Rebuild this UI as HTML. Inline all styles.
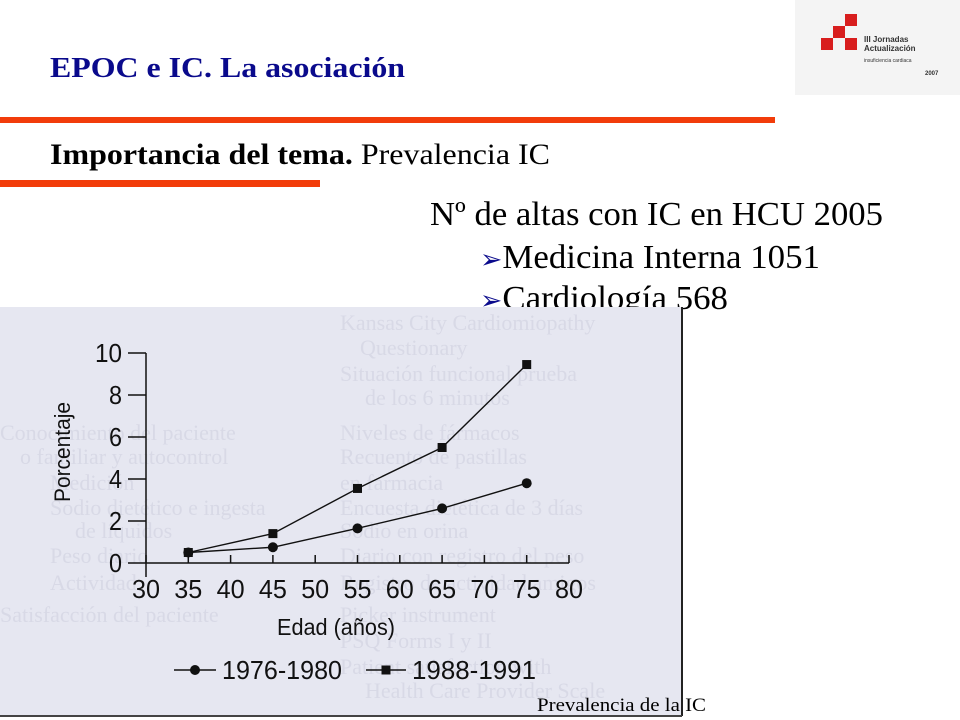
<!DOCTYPE html>
<html><head><meta charset="utf-8"><style>
html,body{margin:0;padding:0;background:#fff;}
svg{display:block;font-family:"Liberation Serif",serif;}
</style></head><body>
<svg id="s" width="960" height="720" viewBox="0 0 960 720" xmlns="http://www.w3.org/2000/svg">
<g>
 <rect x="795" y="0" width="165" height="95" fill="#f4f4f4"/>
 <rect x="845" y="14" width="12" height="12" fill="#d81e1e"/>
 <rect x="833" y="26" width="12" height="12" fill="#d81e1e"/>
 <rect x="821" y="38" width="12" height="12" fill="#d81e1e"/>
 <rect x="845" y="38" width="12" height="12" fill="#d81e1e"/>
 <text x="864" y="42" font-family="Liberation Sans,sans-serif" font-size="8" font-weight="bold" fill="#333">III Jornadas</text>
 <text x="864" y="51" font-family="Liberation Sans,sans-serif" font-size="8" font-weight="bold" fill="#333">Actualización</text>
 <text x="864" y="62" font-family="Liberation Sans,sans-serif" font-size="5" fill="#333">insuficiencia cardiaca</text>
 <text x="925" y="75" font-family="Liberation Sans,sans-serif" font-size="6" font-weight="bold" fill="#333">2007</text>
</g>
<text x="50" y="77" font-size="29" font-weight="bold" fill="#0a0a8c" textLength="355" lengthAdjust="spacingAndGlyphs">EPOC e IC. La asociación</text>
<rect x="0" y="117" width="775" height="6" fill="#f23c0a"/>
<text x="50" y="164" font-size="30" fill="#000" textLength="500" lengthAdjust="spacingAndGlyphs"><tspan font-weight="bold">Importancia del tema.</tspan> Prevalencia IC</text>
<rect x="0" y="180" width="320" height="7" fill="#f23c0a"/>
<text x="430" y="225" font-size="34" fill="#000" textLength="453" lengthAdjust="spacingAndGlyphs">Nº de altas con IC en HCU 2005</text>
<text x="480" y="268" font-size="34" fill="#000" textLength="340" lengthAdjust="spacingAndGlyphs"><tspan fill="#0a0a8c" font-family="DejaVu Sans,sans-serif" font-size="26">➢</tspan>Medicina Interna 1051</text>
<text x="480" y="309" font-size="34" fill="#000" textLength="248" lengthAdjust="spacingAndGlyphs"><tspan fill="#0a0a8c" font-family="DejaVu Sans,sans-serif" font-size="26">➢</tspan>Cardiología 568</text>

<g>
 <rect x="0" y="307" width="682" height="409" fill="#e6e7f1"/>
 <line x1="682" y1="307" x2="682" y2="716" stroke="#222" stroke-width="2"/>
 <line x1="0" y1="716" x2="682" y2="716" stroke="#444" stroke-width="2"/>
 <g font-family="Liberation Serif,serif" font-size="22" fill="#d8d9e6">
  <text x="340" y="330">Kansas City Cardiomiopathy</text>
  <text x="360" y="355">Questionary</text>
  <text x="340" y="381">Situación funcional prueba</text>
  <text x="365" y="405">de los 6 minutos</text>
  <text x="0" y="440">Conocimiento del paciente</text>
  <text x="340" y="440">Niveles de fármacos</text>
  <text x="20" y="464">o familiar y autocontrol</text>
  <text x="340" y="464">Recuento de pastillas</text>
  <text x="50" y="490">Medición</text>
  <text x="340" y="490">en farmacia</text>
  <text x="50" y="515">Sodio dietético e ingesta</text>
  <text x="340" y="515">Encuesta dietética de 3 días</text>
  <text x="75" y="538">de líquidos</text>
  <text x="340" y="538">Sodio en orina</text>
  <text x="50" y="563">Peso diario</text>
  <text x="340" y="563">Diario con registro del peso</text>
  <text x="50" y="590">Actividad</text>
  <text x="340" y="590">Registro de actividad amigos</text>
  <text x="0" y="622">Satisfacción del paciente</text>
  <text x="340" y="622">Picker instrument</text>
  <text x="340" y="648">PSQ Forms I y II</text>
  <text x="340" y="674">Patient satisfaction with</text>
  <text x="365" y="698">Health Care Provider Scale</text>
 </g>
 <g id="chart"></g>
</g>
<text x="537" y="711" font-size="19" fill="#000" textLength="169" lengthAdjust="spacingAndGlyphs">Prevalencia de la IC</text>
</svg>
<script>
const ages = [35, 45, 55, 65, 75];
const series1976 = [0.5, 0.75, 1.65, 2.6, 3.8];
const series1988 = [0.5, 1.4, 3.55, 5.5, 9.45];
const xTicks = [30, 35, 40, 45, 50, 55, 60, 65, 70, 75, 80];
const yTicks = [0, 2, 4, 6, 8, 10];
const seriesNames = ["1976-1980", "1988-1991"];

const NS = "http://www.w3.org/2000/svg";
const g = document.getElementById("chart");
const X0 = 146, X1 = 569, Y0 = 563, Y1 = 353;
const sx = v => X0 + (v - 30) / 50 * (X1 - X0);
const sy = v => Y0 - v / 10 * (Y0 - Y1);
function mk(tag, attrs, parent) {
  const e = document.createElementNS(NS, tag);
  for (const k in attrs) e.setAttribute(k, attrs[k]);
  (parent || g).appendChild(e);
  return e;
}
const FONT = "Liberation Sans, sans-serif";
const yAxis = mk("line", {x1: X0, y1: Y1, x2: X0, y2: 577, stroke: "#111", "stroke-width": 1.5});


const xAxis = mk("line", {x1: X0, y1: Y0, x2: X1, y2: Y0, stroke: "#111", "stroke-width": 1.5});


yTicks.forEach(v => {
  const t = mk("line", {x1: 128, y1: sy(v), x2: X0, y2: sy(v), stroke: "#111", "stroke-width": 1.5});
  
  
  const l = mk("text", {x: 122, y: sy(v) + 9, "text-anchor": "end", "font-family": FONT, "font-size": 26, fill: "#111", textLength: v >= 10 ? 27 : 13, lengthAdjust: "spacingAndGlyphs"});
  l.textContent = v;
  
  
});
xTicks.forEach(v => {
  const t = mk("line", {x1: sx(v), y1: 555, x2: sx(v), y2: Y0, stroke: "#111", "stroke-width": 1.5});
  
  
  const l = mk("text", {x: sx(v), y: 598, "text-anchor": "middle", "font-family": FONT, "font-size": 26, fill: "#111", textLength: 28, lengthAdjust: "spacingAndGlyphs"});
  l.textContent = v;
  
  
});
const yl = mk("text", {x: 0, y: 0, transform: "translate(70,452) rotate(-90)", "text-anchor": "middle", "font-family": FONT, "font-size": 22, fill: "#111", textLength: 100, lengthAdjust: "spacingAndGlyphs"});
yl.textContent = "Porcentaje";


const xl = mk("text", {x: 336, y: 635, "text-anchor": "middle", "font-family": FONT, "font-size": 23, fill: "#111", textLength: 118, lengthAdjust: "spacingAndGlyphs"});
xl.textContent = "Edad (años)";



function line(vals) {
  return ages.map((a, i) => sx(a) + "," + sy(vals[i])).join(" ");
}
const l1 = mk("polyline", {points: line(series1976), fill: "none", stroke: "#111", "stroke-width": 1.4});


const l2 = mk("polyline", {points: line(series1988), fill: "none", stroke: "#111", "stroke-width": 1.4});


ages.forEach((a, i) => {
  const c = mk("circle", {cx: sx(a), cy: sy(series1976[i]), r: 5, fill: "#111"});
  
  
  const s = mk("rect", {x: sx(a) - 4.5, y: sy(series1988[i]) - 4.5, width: 9, height: 9, fill: "#111"});
  
  
});
const LY = 670;
const lg1 = mk("line", {x1: 174, y1: LY, x2: 216, y2: LY, stroke: "#111", "stroke-width": 1.4});


const lc = mk("circle", {cx: 195, cy: LY, r: 5, fill: "#111"});


const lt1 = mk("text", {x: 222, y: LY + 9, "font-family": FONT, "font-size": 26, fill: "#111", textLength: 120, lengthAdjust: "spacingAndGlyphs"});
lt1.textContent = seriesNames[0];


const lg2 = mk("line", {x1: 366, y1: LY, x2: 406, y2: LY, stroke: "#111", "stroke-width": 1.4});


const ls = mk("rect", {x: 381.5, y: LY - 4.5, width: 9, height: 9, fill: "#111"});


const lt2 = mk("text", {x: 412, y: LY + 9, "font-family": FONT, "font-size": 26, fill: "#111", textLength: 124, lengthAdjust: "spacingAndGlyphs"});
lt2.textContent = seriesNames[1];


</script>
</body></html>
